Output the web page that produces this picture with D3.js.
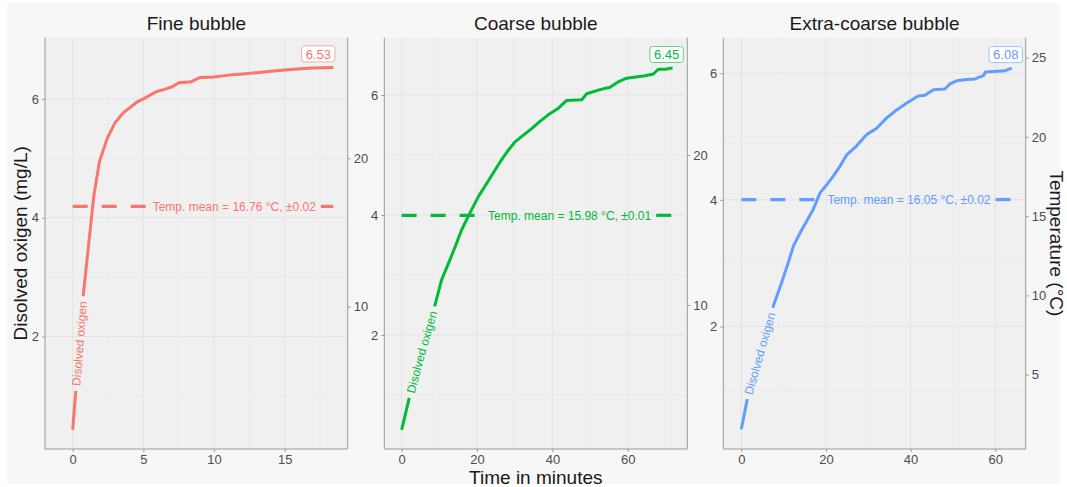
<!DOCTYPE html>
<html>
<head>
<meta charset="utf-8">
<script src="https://cdn.jsdelivr.net/npm/d3@7"></script>
<style>
  body { margin: 0; background: #ffffff; }
  svg { display: block; font-family: "Liberation Sans", Arial, sans-serif; }
</style>
</head>
<body>
<svg id="chart" width="1067" height="487"></svg>
<script>
// ---- data ----
var panelTitles = ["Fine bubble", "Coarse bubble", "Extra-coarse bubble"];

var fineTime = [0, 0.75, 1.5, 1.9, 2.45, 3.0, 3.6, 4.5, 5.0, 5.9, 6.5, 7.0, 7.5, 8.4, 9.0, 10.0, 11.0, 12.0, 13.0, 14.2, 15.6, 17.0, 18.44];
var fineDO   = [0.43, 2.70, 4.38, 4.95, 5.34, 5.60, 5.77, 5.94, 6.00, 6.12, 6.16, 6.20, 6.27, 6.29, 6.36, 6.37, 6.40, 6.42, 6.44, 6.47, 6.50, 6.52, 6.53];

var coarseTime = [0, 2.2, 5.0, 8.85, 10.6, 12.4, 14.2, 15.9, 18.1, 20.4, 22.6, 24.8, 26.5, 28.3, 30.1, 31.9, 34.5, 36.7, 38.9, 41.6, 43.8, 47.8, 49.1, 52.6, 55.3, 57.5, 59.7, 64.6, 66.8, 68.1, 69.9, 71.9];
var coarseDO   = [0.42, 1.0, 1.65, 2.5, 2.92, 3.19, 3.47, 3.75, 4.03, 4.31, 4.53, 4.75, 4.92, 5.08, 5.22, 5.31, 5.44, 5.56, 5.67, 5.78, 5.91, 5.92, 6.02, 6.09, 6.13, 6.22, 6.28, 6.32, 6.35, 6.43, 6.43, 6.45];

var extraTime = [0, 1.65, 4.5, 7.7, 9.5, 11.1, 12.3, 13.9, 15.4, 17.0, 18.6, 20.2, 21.7, 23.3, 24.9, 27.2, 29.6, 32.0, 34.3, 36.7, 39.1, 41.8, 43.4, 45.4, 48.1, 49.3, 50.9, 53.2, 55.2, 57.2, 57.7, 62.3, 63.9];
var extraDO   = [0.38, 0.93, 1.6, 2.35, 2.69, 3.01, 3.27, 3.48, 3.66, 3.85, 4.11, 4.24, 4.37, 4.53, 4.71, 4.85, 5.03, 5.13, 5.29, 5.42, 5.53, 5.64, 5.65, 5.74, 5.75, 5.83, 5.88, 5.90, 5.91, 5.96, 6.02, 6.04, 6.08];

var tempMean = [16.76, 15.98, 16.05];
var tempSD   = [0.02, 0.01, 0.02];
var finalDO  = [6.53, 6.45, 6.08];

var xTicks    = [[0, 5, 10, 15], [0, 20, 40, 60], [0, 20, 40, 60]];
var doTicks   = [2, 4, 6];
var tempTicks = [[10, 20], [10, 20], [5, 10, 15, 20, 25]];

var colors = ["#F8766D", "#00BA38", "#619CFF"];

// ---- layout ----
var plotTop = 37.7, plotBottom = 449;
var panels = [
  { left: 45,    right: 347.7,  x: [-1.96, 19.46], y: [0.107, 7.03], temp: [0.41, 28.13], labelT: 0.48, boxDx: -15 },
  { left: 384.3, right: 687.3,  x: [-4.6, 75.8],   y: [0.10, 6.955], temp: [0.40, 27.82], labelT: 5.3,  boxDx: -6 },
  { left: 723.3, right: 1025.7, x: [-4.25, 67.2],  y: [0.068, 6.56], temp: [0.31, 26.26], labelT: 4.4,  boxDx: -6 }
];
var times = [fineTime, coarseTime, extraTime];
var values = [fineDO, coarseDO, extraDO];

var axisGray = "#9a9a9a";
var textGray = "#4d4d4d";
var intFmt = d3.format("d");

var svg = d3.select("#chart");

// chart background
svg.append("rect")
  .attr("x", 7).attr("y", 3)
  .attr("width", 1053).attr("height", 481)
  .attr("fill", "#f7f7f7");

function minorTicks(major, domain) {
  var step = major[1] - major[0];
  var out = [];
  for (var v = major[0] - step / 2; v <= major[major.length - 1] + step; v += step) {
    if (v >= domain[0] && v <= domain[1]) out.push(v);
  }
  return out;
}

function styleAxis(g) {
  g.select(".domain").remove();
  g.selectAll(".tick line").attr("stroke", axisGray);
  g.selectAll(".tick text").attr("fill", textGray).attr("font-size", 13);
}

function drawPanel(i) {
  var p = panels[i];
  var col = colors[i];
  var data = times[i].map(function (t, k) { return { t: t, v: values[i][k] }; });

  var xScale = d3.scaleLinear().domain(p.x).range([p.left, p.right]);
  var yScale = d3.scaleLinear().domain(p.y).range([plotBottom, plotTop]);
  var tScale = d3.scaleLinear().domain(p.temp).range([plotBottom, plotTop]);

  var g = svg.append("g");

  // panel background
  g.append("rect")
    .attr("x", p.left).attr("y", plotTop)
    .attr("width", p.right - p.left).attr("height", plotBottom - plotTop)
    .attr("fill", "#f0f0f0");

  // grid
  g.selectAll(".vminor").data(minorTicks(xTicks[i], p.x)).enter().append("line")
    .attr("x1", xScale).attr("x2", xScale)
    .attr("y1", plotTop).attr("y2", plotBottom)
    .attr("stroke", "#e9e9e9").attr("stroke-width", 0.6);
  g.selectAll(".hminor").data(minorTicks(doTicks, p.y)).enter().append("line")
    .attr("y1", yScale).attr("y2", yScale)
    .attr("x1", p.left).attr("x2", p.right)
    .attr("stroke", "#e9e9e9").attr("stroke-width", 0.6);
  g.selectAll(".vmajor").data(xTicks[i]).enter().append("line")
    .attr("x1", xScale).attr("x2", xScale)
    .attr("y1", plotTop).attr("y2", plotBottom)
    .attr("stroke", "#e3e3e3").attr("stroke-width", 1);
  g.selectAll(".hmajor").data(doTicks).enter().append("line")
    .attr("y1", yScale).attr("y2", yScale)
    .attr("x1", p.left).attr("x2", p.right)
    .attr("stroke", "#e3e3e3").attr("stroke-width", 1);

  // axes
  g.append("g").attr("transform", "translate(0," + plotBottom + ")")
    .call(d3.axisBottom(xScale).tickValues(xTicks[i]).tickFormat(intFmt).tickSize(3).tickPadding(3))
    .call(styleAxis);
  g.append("g").attr("transform", "translate(" + p.left + ",0)")
    .call(d3.axisLeft(yScale).tickValues(doTicks).tickFormat(intFmt).tickSize(3).tickPadding(3))
    .call(styleAxis);
  g.append("g").attr("transform", "translate(" + p.right + ",0)")
    .call(d3.axisRight(tScale).tickValues(tempTicks[i]).tickFormat(intFmt).tickSize(3).tickPadding(3))
    .call(styleAxis);

  g.append("path")
    .attr("d", "M" + p.left + "," + plotTop + "V" + plotBottom + "H" + p.right + "V" + plotTop)
    .attr("fill", "none").attr("stroke", axisGray).attr("stroke-width", 1);

  // title
  svg.append("text")
    .attr("x", (p.left + p.right) / 2).attr("y", 30)
    .attr("text-anchor", "middle")
    .attr("font-size", 19).attr("fill", "#1a1a1a")
    .text(panelTitles[i]);

  // temperature mean line, with the label inside a gap
  var tEnd = times[i][times[i].length - 1];
  var ty = tScale(tempMean[i]);
  var tx0 = xScale(0), tx1 = xScale(tEnd);
  var tMid = tx0 + 0.62 * (tx1 - tx0);
  var tLabel = g.append("text")
    .attr("x", tMid).attr("y", ty).attr("dy", "0.35em")
    .attr("text-anchor", "middle")
    .attr("font-size", 12).attr("fill", col)
    .text("Temp. mean = " + tempMean[i].toFixed(2) + " \u00B0C, \u00B1" + tempSD[i].toFixed(2));
  var tw = tLabel.node().getComputedTextLength();
  var pad = 5;
  [[tx0, tMid - tw / 2 - pad], [tMid + tw / 2 + pad, tx1]].forEach(function (seg) {
    g.append("line")
      .attr("x1", seg[0]).attr("x2", seg[1])
      .attr("y1", ty).attr("y2", ty)
      .attr("stroke", col).attr("stroke-width", 3.2)
      .attr("stroke-dasharray", "15,14");
  });

  // dissolved oxygen line, label written along the path
  var line = d3.line().x(function (d) { return xScale(d.t); }).y(function (d) { return yScale(d.v); });
  var pathId = "do-path-" + i;
  var path = g.append("path")
    .attr("id", pathId)
    .datum(data)
    .attr("d", line)
    .attr("fill", "none")
    .attr("stroke", col).attr("stroke-width", 3)
    .attr("stroke-linejoin", "round");

  var node = path.node();
  var total = node.getTotalLength();
  var targetX = xScale(p.labelT);
  var lo = 0, hi = total;
  for (var k = 0; k < 40; k++) {
    var mid = (lo + hi) / 2;
    if (node.getPointAtLength(mid).x < targetX) lo = mid; else hi = mid;
  }
  var at = (lo + hi) / 2;

  var doText = g.append("text")
    .attr("font-size", 12).attr("fill", col)
    .attr("dy", "0.35em");
  doText.append("textPath")
    .attr("href", "#" + pathId)
    .attr("startOffset", at)
    .attr("text-anchor", "middle")
    .text("Disolved oxigen");
  var dw = doText.node().getComputedTextLength();
  var gapStart = at - dw / 2 - 5;
  path.attr("stroke-dasharray", gapStart + " " + (dw + 10) + " " + (total + 10));

  // final value label box
  var ex = xScale(tEnd) + p.boxDx;
  var ey = yScale(finalDO[i]) - 13.5;
  var boxText = g.append("text")
    .attr("x", ex).attr("y", ey).attr("dy", "0.36em")
    .attr("text-anchor", "middle")
    .attr("font-size", 13).attr("fill", col)
    .text(finalDO[i].toFixed(2));
  var bw = boxText.node().getComputedTextLength() + 8;
  g.insert("rect", function () { return boxText.node(); })
    .attr("x", ex - bw / 2).attr("y", ey - 8)
    .attr("width", bw).attr("height", 16)
    .attr("rx", 2.5)
    .attr("fill", "#ffffff").attr("stroke", col).attr("stroke-opacity", 0.6).attr("stroke-width", 1);
}

panels.forEach(function (p, i) { drawPanel(i); });

// axis titles
svg.append("text")
  .attr("transform", "translate(26.5," + ((plotTop + plotBottom) / 2) + ") rotate(-90)")
  .attr("text-anchor", "middle")
  .attr("font-size", 19).attr("fill", "#1a1a1a")
  .text("Disolved oxigen (mg/L)");

svg.append("text")
  .attr("transform", "translate(1050," + ((plotTop + plotBottom) / 2) + ") rotate(90)")
  .attr("text-anchor", "middle")
  .attr("font-size", 19).attr("fill", "#1a1a1a")
  .text("Temperature (\u00B0C)");

svg.append("text")
  .attr("x", (panels[1].left + panels[1].right) / 2).attr("y", 483.5)
  .attr("text-anchor", "middle")
  .attr("font-size", 19).attr("fill", "#1a1a1a")
  .text("Time in minutes");
</script>
</body>
</html>
